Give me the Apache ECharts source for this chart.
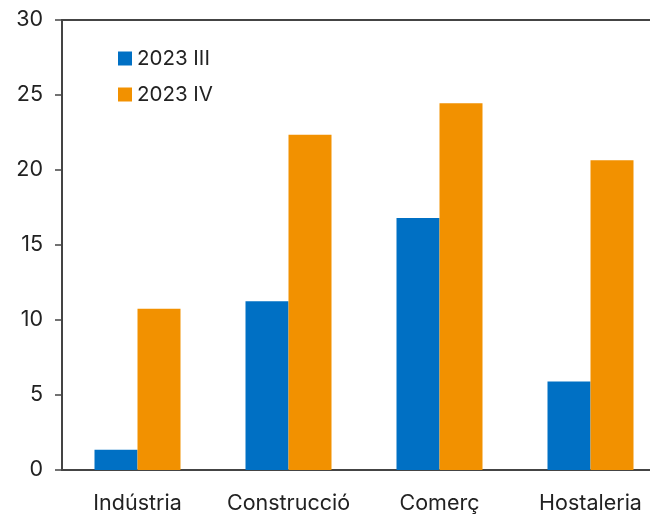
<!DOCTYPE html>
<html>
<head>
<meta charset="utf-8">
<script src="https://cdn.jsdelivr.net/npm/echarts@6/dist/echarts.min.js"></script>
<style>
  html, body { margin: 0; padding: 0; background: #fff; overflow: hidden; }
  /* the plot runs slightly past the right edge of the page */
  #chart { width: 666px; height: 515px; }
</style>
</head>
<body>
<div id="chart"></div>
<script>
const categories = ['Indústria', 'Construcció', 'Comerç', 'Hostaleria'];
const seriesNames = ['2023 III', '2023 IV'];
const valuesIII = [1.35, 11.25, 16.8, 5.9];
const valuesIV = [10.75, 22.35, 24.45, 20.65];
const yTicks = [0, 5, 10, 15, 20, 25, 30];

const fontFamily = 'Inter, "Noto Sans", sans-serif';
const textColor = '#222';
const axisColor = '#444';

const chart = echarts.init(document.getElementById('chart'), null, { renderer: 'canvas' });
chart.setOption({
  animation: false,
  textStyle: { fontFamily: fontFamily },
  grid: { left: 62, right: 0, top: 20, bottom: 45, containLabel: false },
  legend: {
    orient: 'vertical',
    left: 113,
    top: 43,
    itemWidth: 14,
    itemHeight: 14,
    itemGap: 15,
    icon: 'rect',
    textStyle: { fontSize: 20.5, color: textColor, fontFamily: fontFamily },
    data: seriesNames
  },
  xAxis: [{
    type: 'category',
    data: categories,
    axisLine: { show: true, lineStyle: { color: axisColor, width: 2 } },
    axisTick: { show: false },
    axisLabel: { interval: 0, fontSize: 21.5, color: textColor, margin: 23, fontFamily: fontFamily }
  }, {
    type: 'category',
    position: 'top',
    data: categories,
    axisLine: { show: true, lineStyle: { color: axisColor, width: 2 } },
    axisTick: { show: false },
    axisLabel: { show: false }
  }],
  yAxis: {
    type: 'value',
    min: yTicks[0],
    max: yTicks[yTicks.length - 1],
    interval: 5,
    axisLine: { show: true, lineStyle: { color: axisColor, width: 2 } },
    axisTick: { show: true, length: 7, lineStyle: { color: axisColor, width: 1.5 } },
    splitLine: { show: false },
    axisLabel: { fontSize: 21.5, color: textColor, margin: 19, fontFamily: fontFamily }
  },
  series: [{
    name: seriesNames[0],
    type: 'bar',
    data: valuesIII,
    barWidth: 43,
    barGap: '0%',
    itemStyle: { color: '#0070C4' }
  }, {
    name: seriesNames[1],
    type: 'bar',
    data: valuesIV,
    barWidth: 43,
    barGap: '0%',
    itemStyle: { color: '#F29100' }
  }]
});
</script>
</body>
</html>
